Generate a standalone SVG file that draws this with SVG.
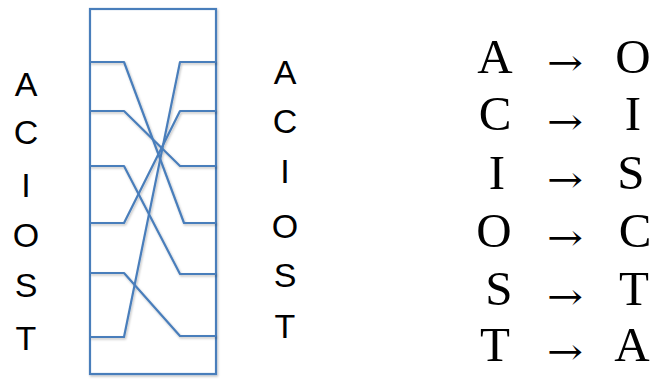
<svg xmlns="http://www.w3.org/2000/svg" width="654" height="379" viewBox="0 0 654 379">
  <defs>
    <filter id="sh" x="-10%" y="-10%" width="120%" height="120%">
      <feDropShadow dx="1" dy="1.5" stdDeviation="1" flood-color="#000" flood-opacity="0.25"/>
    </filter>
  </defs>
  <style>
    .wire { fill: none; stroke: #4a7ebb; stroke-width: 2.2; stroke-linejoin: round; }
    .box { fill: #fff; stroke: #4a7ebb; stroke-width: 2.2; }
    .lab { font-family: "Liberation Sans", Arial, sans-serif; font-size: 34px; fill: #000; text-anchor: middle; }
    .cm { font-family: "Liberation Serif", "Times New Roman", serif; font-size: 49px; fill: #000; text-anchor: middle; }
    .arr { font-family: "DejaVu Serif", serif; font-size: 36px; fill: #000; text-anchor: middle; }
  </style>
  <rect width="654" height="379" fill="#fff"/>

  <g id="box">
    <rect class="box" x="90" y="9" width="126" height="365" filter="url(#sh)"/>
  </g>

  <g id="connectors" filter="url(#sh)">
    <path class="wire" d="M90,62 H124 L184,223 H216"/>
    <path class="wire" d="M90,111 H124 L180,166 H216"/>
    <path class="wire" d="M90,166 H124 L180,274 H216"/>
    <path class="wire" d="M90,223 H124 L180,111 H216"/>
    <path class="wire" d="M90,273 H124 L180,336 H216"/>
    <path class="wire" d="M90,337 H124 L180,62 H216"/>
  </g>

  <g id="left-labels">
    <text class="lab" x="26" y="96">A</text>
    <text class="lab" x="26" y="144">C</text>
    <text class="lab" x="26" y="197">I</text>
    <text class="lab" x="26" y="247">O</text>
    <text class="lab" x="26" y="297">S</text>
    <text class="lab" x="26" y="350">T</text>
  </g>

  <g id="right-labels">
    <text class="lab" x="285" y="84">A</text>
    <text class="lab" x="285" y="133">C</text>
    <text class="lab" x="285" y="183">I</text>
    <text class="lab" x="285" y="238">O</text>
    <text class="lab" x="285" y="287">S</text>
    <text class="lab" x="285" y="338">T</text>
  </g>

  <g id="mapping">
    <text class="cm" x="495" y="73">A</text>
    <text class="arr" x="565" y="75" textLength="36" lengthAdjust="spacingAndGlyphs">→</text>
    <text class="cm" x="633" y="73">O</text>

    <text class="cm" x="495" y="130">C</text>
    <text class="arr" x="565" y="134" textLength="36" lengthAdjust="spacingAndGlyphs">→</text>
    <text class="cm" x="633" y="130">I</text>

    <text class="cm" x="497" y="189">I</text>
    <text class="arr" x="565" y="192" textLength="36" lengthAdjust="spacingAndGlyphs">→</text>
    <text class="cm" x="631" y="189">S</text>

    <text class="cm" x="494" y="247">O</text>
    <text class="arr" x="565" y="250" textLength="36" lengthAdjust="spacingAndGlyphs">→</text>
    <text class="cm" x="635" y="247">C</text>

    <text class="cm" x="499" y="305">S</text>
    <text class="arr" x="565" y="309" textLength="36" lengthAdjust="spacingAndGlyphs">→</text>
    <text class="cm" x="634" y="305">T</text>

    <text class="cm" x="495" y="361">T</text>
    <text class="arr" x="565" y="364" textLength="36" lengthAdjust="spacingAndGlyphs">→</text>
    <text class="cm" x="632" y="361">A</text>
  </g>
</svg>
